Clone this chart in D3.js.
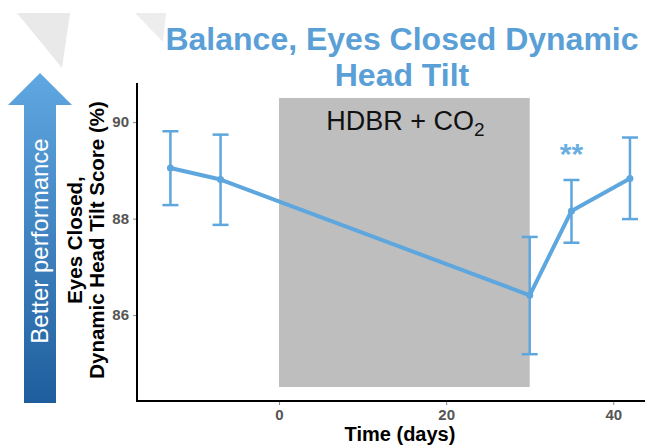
<!DOCTYPE html>
<html>
<head>
<meta charset="utf-8">
<script src="https://cdn.jsdelivr.net/npm/d3@7"></script>
<style>
  html, body { margin: 0; padding: 0; background: #fff; }
  svg { display: block; font-family: "Liberation Sans", Arial, sans-serif; }
</style>
</head>
<body>
<svg id="chart" width="654" height="445"></svg>
<script>
// ---- data ----
const days = [-13, -7, 30, 35, 42];
const means = [89.05, 88.81, 86.41, 88.16, 88.83];
const upper = [89.81, 89.74, 87.62, 88.80, 89.68];
const lower = [88.28, 87.87, 85.19, 87.50, 87.99];
const xTicks = [0, 20, 40];
const yTicks = [86, 88, 90];
const interventionStart = 0;
const interventionEnd = 30;
const titleLines = ["Balance, Eyes Closed Dynamic", "Head Tilt"];
const yLabelLines = ["Eyes Closed,", "Dynamic Head Tilt Score (%)"];
const xLabel = "Time (days)";
const arrowLabel = "Better performance";
const sigDay = 35;
const sigLabel = "**";

// ---- layout ----
const svg = d3.select("#chart");
const pLeft = 137, pRight = 645, pTop = 83, pBottom = 401;
const x = d3.scaleLinear().domain([-17, 43.8]).range([pLeft, pRight]);
const y = d3.scaleLinear().domain([84.22, 90.81]).range([pBottom, pTop]);
const blue = "#5EA6DE";

// decorative background triangles
svg.append("polygon").attr("points", "17,13 70,13 62,68").attr("fill", "#E9E9E9");
svg.append("polygon").attr("points", "135,13 166,13 163,42").attr("fill", "#EDEDED");

// gradient arrow
const defs = svg.append("defs");
const grad = defs.append("linearGradient").attr("id", "arrowGrad")
  .attr("x1", 0).attr("y1", 0).attr("x2", 0).attr("y2", 1);
grad.append("stop").attr("offset", "0%").attr("stop-color", "#60A8E2");
grad.append("stop").attr("offset", "100%").attr("stop-color", "#1F5E9E");
svg.append("path")
  .attr("d", "M40,73 L72,105 L56,105 L56,403 L24,403 L24,105 L8,105 Z")
  .attr("fill", "url(#arrowGrad)");
svg.append("text")
  .attr("transform", "translate(48,241) rotate(-90)")
  .attr("text-anchor", "middle")
  .attr("font-size", 24)
  .attr("fill", "#fff")
  .text(arrowLabel);

// title
svg.selectAll("text.title").data(titleLines).join("text")
  .attr("class", "title")
  .attr("x", 402)
  .attr("y", (d, i) => 50 + i * 36)
  .attr("text-anchor", "middle")
  .attr("font-size", 32)
  .attr("font-weight", "bold")
  .attr("fill", "#5B9FD7")
  .text(d => d);

// intervention shaded rect
svg.append("rect")
  .attr("x", x(interventionStart))
  .attr("width", x(interventionEnd) - x(interventionStart))
  .attr("y", y(90.5))
  .attr("height", y(84.51) - y(90.5))
  .attr("fill", "#BEBEBE");

// HDBR + CO2 label
const hl = svg.append("text")
  .attr("x", (x(interventionStart) + x(interventionEnd)) / 2 + 1)
  .attr("y", 130)
  .attr("text-anchor", "middle")
  .attr("font-size", 27)
  .attr("fill", "#111");
hl.append("tspan").text("HDBR + CO");
hl.append("tspan").attr("font-size", 19).attr("dy", 6).text("2");

// axes
const xAxis = svg.append("g").attr("transform", `translate(0,${pBottom})`)
  .call(d3.axisBottom(x).tickValues(xTicks).tickSize(4).tickPadding(4).tickFormat(d3.format("d")));
const yAxis = svg.append("g").attr("transform", `translate(${pLeft},0)`)
  .call(d3.axisLeft(y).tickValues(yTicks).tickSize(4).tickPadding(4).tickFormat(d3.format("d")));
[xAxis, yAxis].forEach(g => {
  g.select(".domain").remove();
  g.selectAll(".tick line").attr("stroke", "#888").attr("stroke-width", 1);
  g.selectAll(".tick text").attr("font-size", 15).attr("font-weight", "bold")
    .attr("fill", "#555").attr("font-family", "Liberation Sans, Arial, sans-serif");
});
svg.append("line").attr("x1", pLeft).attr("x2", pLeft).attr("y1", pTop).attr("y2", pBottom + 1)
  .attr("stroke", "#000").attr("stroke-width", 2);
svg.append("line").attr("x1", pLeft - 1).attr("x2", pRight).attr("y1", pBottom).attr("y2", pBottom)
  .attr("stroke", "#000").attr("stroke-width", 2);

// axis titles
svg.append("text")
  .attr("x", 400).attr("y", 441)
  .attr("text-anchor", "middle")
  .attr("font-size", 20).attr("font-weight", "bold").attr("fill", "#000")
  .text(xLabel);
svg.selectAll("text.ylab").data(yLabelLines).join("text")
  .attr("class", "ylab")
  .attr("transform", (d, i) => `translate(${82 + i * 22},240) rotate(-90)`)
  .attr("text-anchor", "middle")
  .attr("font-size", 20.5).attr("font-weight", "bold").attr("fill", "#000")
  .text(d => d);

// data
const pts = days.map((d, i) => ({ day: d, m: means[i], hi: upper[i], lo: lower[i] }));
const capW = 8;
const eb = svg.append("g").attr("stroke", blue).attr("stroke-width", 2.5).attr("fill", "none");
pts.forEach(p => {
  eb.append("line").attr("x1", x(p.day)).attr("x2", x(p.day)).attr("y1", y(p.hi)).attr("y2", y(p.lo));
  eb.append("line").attr("x1", x(p.day) - capW).attr("x2", x(p.day) + capW).attr("y1", y(p.hi)).attr("y2", y(p.hi));
  eb.append("line").attr("x1", x(p.day) - capW).attr("x2", x(p.day) + capW).attr("y1", y(p.lo)).attr("y2", y(p.lo));
});
svg.append("path").datum(pts)
  .attr("fill", "none").attr("stroke", blue).attr("stroke-width", 4)
  .attr("stroke-linejoin", "round")
  .attr("d", d3.line().x(p => x(p.day)).y(p => y(p.m)));
svg.selectAll("circle.pt").data(pts).join("circle")
  .attr("class", "pt")
  .attr("cx", p => x(p.day)).attr("cy", p => y(p.m)).attr("r", 3.5)
  .attr("fill", blue);

// significance marker
svg.append("text")
  .attr("x", x(sigDay)).attr("y", 164)
  .attr("text-anchor", "middle")
  .attr("font-size", 30).attr("font-weight", "bold")
  .attr("fill", "#6BAFE2")
  .text(sigLabel);
</script>
</body>
</html>
